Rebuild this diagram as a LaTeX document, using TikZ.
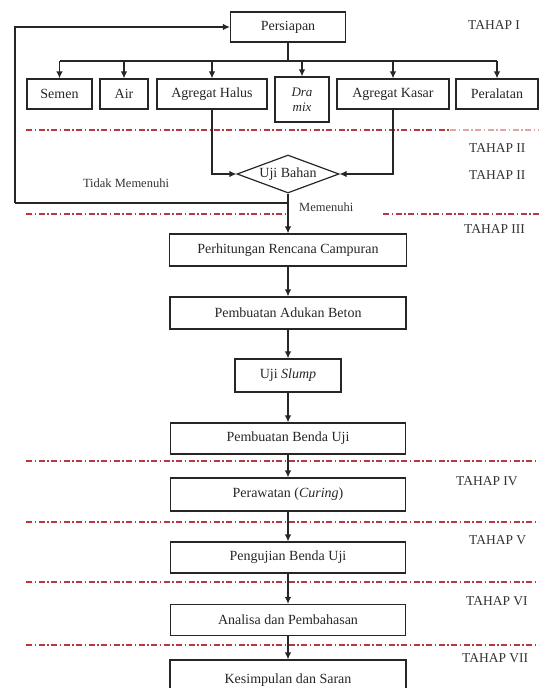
\documentclass[tikz,border=0pt]{standalone}
\usepackage{fontspec}
\setmainfont{Liberation Serif}
\usetikzlibrary{arrows.meta,shapes.geometric}
\definecolor{sepred}{RGB}{185,55,65}
\begin{document}
\begin{tikzpicture}[x=1pt,y=-1pt,
 box/.style={draw=black!85,line width=1.2pt,rectangle,inner sep=0pt,font=\fontsize{14}{15}\selectfont,align=center,text=black!85},
 arr/.style={-{Latex[length=7pt,width=6.5pt]},line width=1.2pt,draw=black!85},
 ln/.style={line width=1.2pt,draw=black!85},
 stage/.style={font=\fontsize{13.5}{15}\selectfont,anchor=west,text=black!80,inner sep=0pt},
 note/.style={font=\fontsize{12.5}{14}\selectfont,text=black!80,inner sep=0pt},
 sep/.style={draw=sepred,line width=1.2pt,dash pattern=on 6pt off 2.5pt on 1.5pt off 2.5pt}]
\useasboundingbox (0,0) rectangle (539,688);
\begin{scope}
\clip (0,0) rectangle (539,688);

% separators
\draw[sep] (26,130) -- (450,130);
\draw[sep,draw=sepred!45] (450,130) -- (539,130);
\draw[sep] (26,214) -- (286,214);
\draw[sep] (383,214) -- (539,214);
\draw[sep] (26,461) -- (539,461);
\draw[sep] (26,522) -- (539,522);
\draw[sep] (26,582) -- (539,582);
\draw[sep] (26,645) -- (539,645);

% nodes
\node[box,minimum width=115pt,minimum height=30pt] (persiapan) at (288,27) {Persiapan};
\node[box,minimum width=65pt,minimum height=30pt] (semen) at (59.5,94) {Semen};
\node[box,minimum width=48pt,minimum height=30pt] (air) at (124,94) {Air};
\node[box,minimum width=110pt,minimum height=30pt] (ah) at (212,94) {Agregat Halus};
\node[box,minimum width=54pt,minimum height=45pt,font=\fontsize{13}{15}\selectfont] (dra) at (302,99.5) {\textit{Dra}\\\textit{mix}};
\node[box,minimum width=112pt,minimum height=30pt] (ak) at (393,94) {Agregat Kasar};
\node[box,minimum width=82pt,minimum height=30pt] (per) at (497,94) {Peralatan};

\node[draw=black!85,line width=1.2pt,diamond,inner sep=0pt,minimum width=102pt,minimum height=38pt,aspect=2.7,font=\fontsize{14}{15}\selectfont,text=black!85] (uji) at (288,174) {Uji Bahan};

\node[box,minimum width=237pt,minimum height=32pt] (hit) at (288,250) {Perhitungan Rencana Campuran};
\node[box,minimum width=236pt,minimum height=32pt] (aduk) at (288,313) {Pembuatan Adukan Beton};
\node[box,minimum width=106pt,minimum height=33pt] (slump) at (288,375.5) {Uji \textit{Slump}};
\node[box,minimum width=235pt,minimum height=31pt] (benda) at (288,438.5) {Pembuatan Benda Uji};
\node[box,minimum width=235pt,minimum height=33pt] (rawat) at (288,494.5) {Perawatan (\textit{Curing})};
\node[box,minimum width=235pt,minimum height=31pt] (uji2) at (288,557.5) {Pengujian Benda Uji};
\node[box,minimum width=235pt,minimum height=31pt] (analisa) at (288,620) {Analisa dan Pembahasan};
\node[box,minimum width=236pt,minimum height=40pt] (simpul) at (288,680) {Kesimpulan dan Saran};

% stage labels
\node[stage] (t1) at (468,25) {TAHAP I};
\node[stage] (t2a) at (469,148) {TAHAP II};
\node[stage] (t2b) at (469,175) {TAHAP II};
\node[stage] (t3) at (464,229) {TAHAP III};
\node[stage] (t4) at (456,481) {TAHAP IV};
\node[stage] (t5) at (469,540) {TAHAP V};
\node[stage] (t6) at (466,601) {TAHAP VI};
\node[stage] (t7) at (462,658) {TAHAP VII};

\node[note] (tidak) at (126,183) {Tidak Memenuhi};
\node[note,anchor=west] (memenuhi) at (299,207) {Memenuhi};

% connectors
\coordinate (bus) at (288,61);
\coordinate (fb) at (15,203);
\draw[ln] (persiapan.south) -- (bus);
\draw[ln] (semen.north |- bus) -- (per.north |- bus);
\foreach \n in {semen,air,ah,dra,ak,per}{
  \draw[arr] (\n.north |- bus) -- (\n.north);
}
\draw[arr] (ah.south) |- (uji.west);
\draw[arr] (ak.south) |- (uji.east);
\draw[ln] (uji.south) |- (fb);
\draw[arr] (fb) |- (persiapan.west);
\draw[arr] (uji.south) -- (hit.north);
\draw[arr] (hit.south) -- (aduk.north);
\draw[arr] (aduk.south) -- (slump.north);
\draw[arr] (slump.south) -- (benda.north);
\draw[arr] (benda.south) -- (rawat.north);
\draw[arr] (rawat.south) -- (uji2.north);
\draw[arr] (uji2.south) -- (analisa.north);
\draw[arr] (analisa.south) -- (simpul.north);
\end{scope}
\end{tikzpicture}
\end{document}
